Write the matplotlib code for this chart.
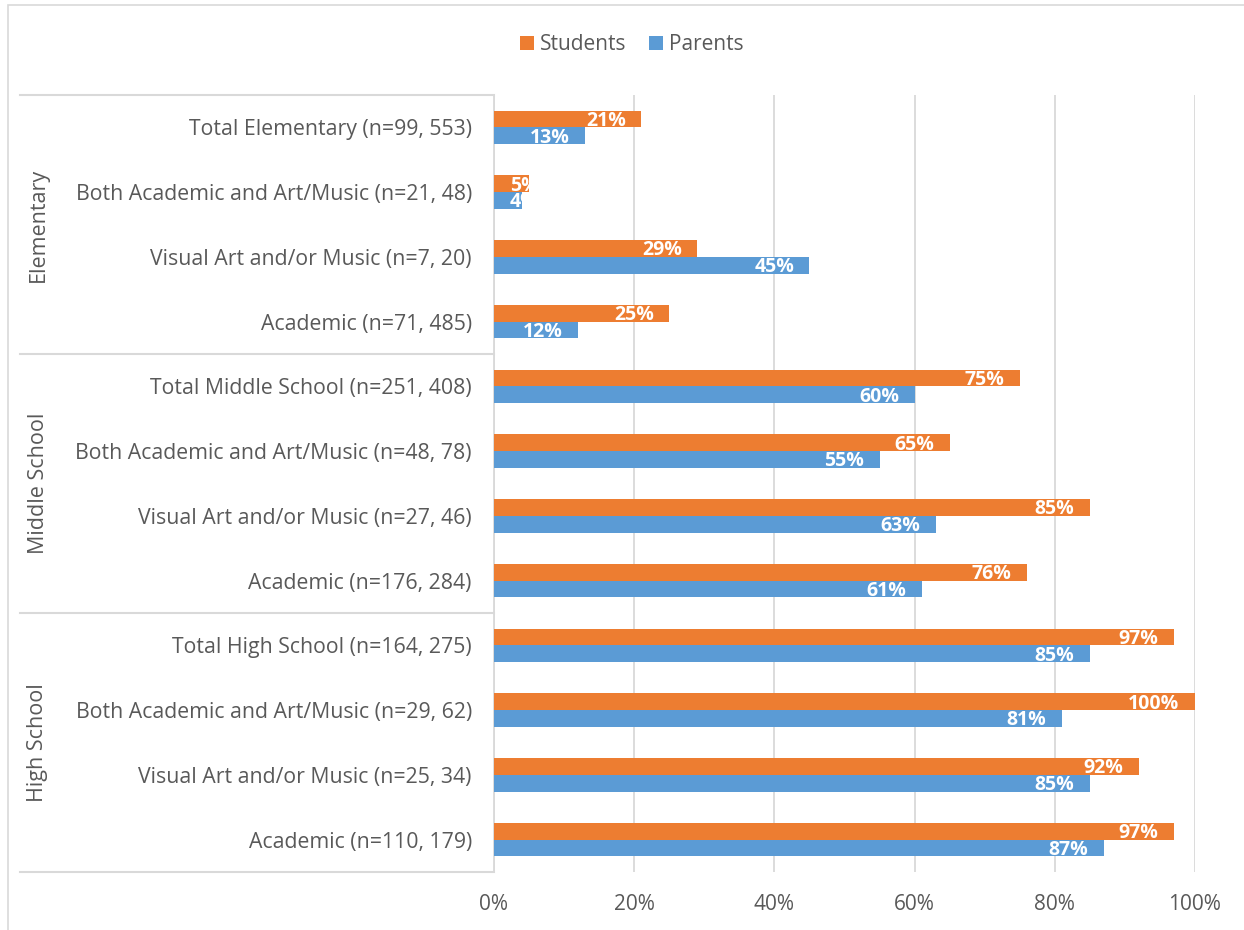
import matplotlib.pyplot as plt
import matplotlib.patches as mpatches
from matplotlib.lines import Line2D
import numpy as np

plt.rcParams['font.family'] = ['Open Sans', 'DejaVu Sans']

# rows top to bottom
categories = [
    'Total Elementary (n=99, 553)',
    'Both Academic and Art/Music (n=21, 48)',
    'Visual Art and/or Music (n=7, 20)',
    'Academic (n=71, 485)',
    'Total Middle School (n=251, 408)',
    'Both Academic and Art/Music (n=48, 78)',
    'Visual Art and/or Music (n=27, 46)',
    'Academic (n=176, 284)',
    'Total High School (n=164, 275)',
    'Both Academic and Art/Music (n=29, 62)',
    'Visual Art and/or Music (n=25, 34)',
    'Academic (n=110, 179)',
]
groups = ['Elementary', 'Middle School', 'High School']
students = [21, 5, 29, 25, 75, 65, 85, 76, 97, 100, 92, 97]
parents = [13, 4, 45, 12, 60, 55, 63, 61, 85, 81, 85, 87]

orange = '#ED7D31'
blue = '#5B9BD5'
txt = '#595959'
grid = '#D9D9D9'

W, H = 1244, 930
fig = plt.figure(figsize=(W / 100, H / 100), dpi=100)
left, right, top, bottom = 494, 1195, 95, 872
ax = fig.add_axes([left / W, 1 - bottom / H, (right - left) / W, (bottom - top) / H])

y = np.arange(len(categories))
h = 0.26
bs = ax.barh(y - h / 2, students, height=h, color=orange, label='Students', zorder=3)
bp = ax.barh(y + h / 2, parents, height=h, color=blue, label='Parents', zorder=3)

for bars, vals in [(bs, students), (bp, parents)]:
    for b, v in zip(bars, vals):
        cy = b.get_y() + b.get_height() / 2 + 0.03
        if v < 8:
            # too short for the label: it starts inside and gets cut at the bar end
            t = ax.text(2.3, cy, f'{v}%', ha='left', va='center',
                        color='white', fontsize=14, fontweight='bold', zorder=4)
        else:
            t = ax.text(v - 2.2, cy, f'{v}%', ha='right', va='center',
                        color='white', fontsize=14, fontweight='bold', zorder=4)
        t.set_clip_path(b)

ax.set_xlim(0, 100)
ax.set_ylim(len(categories) - 0.5, -0.5)
ax.set_xticks(range(0, 101, 20))
ax.set_xticklabels([f'{v}%' for v in range(0, 101, 20)])
ax.set_yticks(y)
ax.set_yticklabels(categories)
ax.tick_params(axis='both', length=0, labelcolor=txt)
ax.tick_params(axis='y', pad=16, labelsize=15.3)
ax.tick_params(axis='x', pad=16, labelsize=15)
ax.xaxis.grid(True, color=grid, linewidth=1.3, zorder=0)
ax.set_axisbelow(True)
for s in ['top', 'right', 'bottom']:
    ax.spines[s].set_visible(False)
ax.spines['left'].set_color(grid)
ax.spines['left'].set_linewidth(1.3)

# group separators and labels
bounds = [top, 354, 613, bottom]
for yy in bounds:
    fig.add_artist(Line2D([20 / W, left / W], [1 - yy / H, 1 - yy / H], color=grid, linewidth=1.5))
for i, g in enumerate(groups):
    cy = (bounds[i] + bounds[i + 1]) / 2
    fig.text(38 / W, 1 - cy / H, g, rotation=90, ha='center', va='center', fontsize=15.5, color=txt)

# figure border
fig.add_artist(mpatches.Rectangle((8 / W, -0.1), 1.2, 1 - 5 / H + 0.1, fill=False,
                                  edgecolor=grid, linewidth=1.2))

fig.legend(handles=[bs, bp], labels=['Students', 'Parents'], loc='center',
           bbox_to_anchor=(632 / W, 1 - 45 / H), ncol=2, frameon=False, fontsize=15,
           labelcolor=txt, handlelength=0.65, handleheight=0.65, handletextpad=0.3,
           columnspacing=1.1)

fig.savefig('out.png', dpi=100)
